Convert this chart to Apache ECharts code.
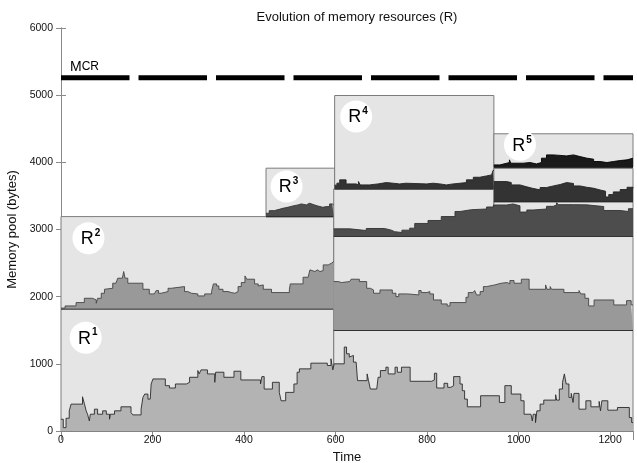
<!DOCTYPE html>
<html><head><meta charset="utf-8">
<script src="https://cdn.jsdelivr.net/npm/echarts@6/dist/echarts.min.js"></script>
<style>html,body{margin:0;padding:0;background:#fff}#c{width:637px;height:463px}</style>
</head><body><div id="c"></div>
<script>
// ---- data ----
const mcrLevel = 5260;

// pool boxes: [timeStart, timeEnd, bottom, top]
const boxR1 = [[0, 596, 0, 1820], [596, 1250, 0, 1500]];
const boxR2 = [[0, 596, 1820, 3192], [596, 1250, 1500, 2904]];
const boxR3 = [[448, 598, 3192, 3913], [596, 946, 2904, 3605], [946, 1250, 2904, 3415]];
const boxR4 = [[598, 946, 3605, 4995], [946, 1250, 3415, 3910]];
const boxR5 = [[946, 1250, 3928, 4425]];

// memory use (top of filled area), [time, bytes]
const r1 = [[0,175],[5,50],[11,190],[18,300],[22,400],[47,510],[51,410],[55,300],[58,250],[62,150],[64,250],[73,325],[80,250],[91,300],[99,250],[106,175],[108,250],[117,300],[131,360],[153,275],[157,240],[175,325],[179,500],[183,550],[190,475],[195,450],[197,700],[201,775],[228,675],[237,640],[250,700],[274,725],[281,800],[299,900],[302,850],[306,910],[320,850],[336,725],[338,875],[356,800],[378,890],[393,760],[436,700],[439,810],[444,625],[462,725],[477,575],[481,450],[491,575],[509,700],[516,875],[521,925],[546,1010],[582,975],[590,1075],[594,910],[597,1000],[619,1250],[624,1150],[630,1100],[634,1125],[639,1025],[645,1000],[648,750],[669,850],[672,750],[676,625],[690,650],[693,800],[698,900],[710,950],[715,850],[730,950],[735,875],[744,950],[763,740],[810,760],[816,860],[821,640],[837,710],[845,650],[852,675],[858,810],[872,700],[877,600],[882,475],[888,360],[917,525],[958,425],[970,675],[984,550],[1005,450],[1012,250],[1027,225],[1030,150],[1032,250],[1037,125],[1040,300],[1047,400],[1055,460],[1081,540],[1083,460],[1089,625],[1096,725],[1100,850],[1104,700],[1110,500],[1115,560],[1119,425],[1121,560],[1132,325],[1147,450],[1158,360],[1176,440],[1179,300],[1182,450],[1195,310],[1216,350],[1242,200],[1247,125],[1250,125]];
const r2a = [[0,1830],[9,1862],[33,1912],[51,1976],[69,1951],[77,1902],[80,1976],[88,2051],[95,2110],[99,2125],[113,2200],[120,2210],[124,2275],[134,2300],[137,2374],[140,2275],[146,2200],[179,2110],[193,2041],[204,2026],[208,2091],[213,2051],[219,2076],[234,2125],[241,2150],[270,2076],[277,2051],[285,2041],[299,2011],[314,2041],[329,2076],[333,2190],[340,2160],[345,2110],[354,2076],[365,2061],[372,2051],[380,2076],[387,2150],[394,2210],[402,2309],[406,2260],[423,2190],[431,2160],[434,2175],[442,2110],[460,2061],[499,2100],[501,2190],[529,2289],[540,2309],[544,2399],[548,2374],[555,2399],[560,2374],[566,2389],[573,2473],[584,2498],[591,2523],[596,2523]];
const r2b = [[596,2225],[606,2210],[613,2225],[631,2210],[634,2260],[652,2225],[668,2125],[676,2100],[683,2051],[697,2100],[709,2110],[713,2100],[724,2051],[732,2001],[738,2041],[757,2026],[782,2091],[787,2061],[800,2076],[806,2041],[814,1951],[831,1892],[844,1862],[850,1912],[885,1991],[890,2061],[900,2051],[904,2091],[908,2026],[916,2076],[923,2150],[930,2175],[948,2200],[962,2210],[975,2190],[981,2240],[990,2200],[1006,2260],[1023,2110],[1059,2175],[1062,2110],[1069,2150],[1072,2110],[1099,2061],[1132,2091],[1136,2041],[1145,1976],[1153,1862],[1165,1951],[1208,1877],[1236,1941],[1246,1877],[1250,1877]];
const r3a = [[448,3242],[455,3281],[466,3301],[477,3316],[485,3331],[496,3351],[507,3366],[518,3381],[525,3366],[536,3391],[543,3366],[554,3351],[561,3331],[572,3341],[580,3366],[583,3341],[587,3381],[593,3366],[596,3366]];
const r3b = [[596,3010],[631,2985],[667,3015],[707,2990],[722,2968],[729,2955],[745,2990],[762,3020],[773,3090],[802,3134],[831,3193],[861,3268],[872,3295],[897,3305],[930,3335],[945,3365],[974,3380],[988,3352],[1003,3260],[1018,3291],[1032,3305],[1061,3345],[1076,3367],[1083,3400],[1087,3370],[1120,3367],[1149,3342],[1186,3283],[1222,3268],[1240,3310],[1250,3300]];
const r4a = [[598,3660],[603,3690],[609,3739],[623,3679],[645,3664],[650,3714],[654,3664],[674,3679],[693,3699],[711,3689],[726,3679],[740,3689],[754,3714],[757,3679],[799,3689],[813,3679],[828,3664],[842,3679],[857,3689],[872,3699],[886,3739],[901,3778],[915,3798],[930,3813],[941,3838],[944,3878],[946,3878]];
const r4b = [[946,3714],[974,3699],[984,3664],[1003,3635],[1018,3614],[1030,3590],[1047,3625],[1061,3649],[1076,3670],[1091,3699],[1105,3685],[1120,3649],[1134,3629],[1149,3614],[1164,3589],[1178,3570],[1190,3485],[1197,3520],[1207,3560],[1222,3595],[1237,3629],[1250,3614]];
const r5 = [[946,3962],[959,3987],[974,3997],[980,4037],[983,3987],[1010,3997],[1025,3977],[1039,3997],[1050,4062],[1061,4111],[1076,4096],[1105,4111],[1120,4086],[1134,4062],[1149,4047],[1164,4012],[1178,3997],[1193,4012],[1207,4027],[1222,4037],[1237,4062],[1250,4067]];

// pool label badges
const badgeNames = ['1', '2', '3', '4', '5'];
const badgePos = [[54,1390],[60,2871],[493,3640],[645,4683],[1003,4261]];

// ---- chart ----
const chart = echarts.init(document.getElementById('c'), null, {renderer: 'canvas'});
const FONT = 'Liberation Sans, Arial, Helvetica, sans-serif';
const allBoxes = [].concat(boxR1, boxR2, boxR3, boxR4, boxR5);

function renderBox(params, api) {
  const x0 = api.value(0), x1 = api.value(1), b = api.value(2), t = api.value(3);
  const pTL = api.coord([x0, t]);
  const pBR = api.coord([x1, b]);
  const children = [{
    type: 'rect',
    shape: {x: pTL[0], y: pTL[1], width: pBR[0] - pTL[0], height: pBR[1] - pTL[1]},
    style: {fill: '#e5e5e5', stroke: '#7c7c7c', lineWidth: 1}
  }];
  if (b > 0) {
    children.push({type: 'line', shape: {x1: pTL[0], y1: pBR[1], x2: pBR[0], y2: pBR[1]},
      style: {stroke: '#111', lineWidth: 1.4}});
  }
  return {type: 'group', children};
}

function areaSeries(name, data, base, fill, line) {
  return {
    name, type: 'line', data, step: 'end', symbol: 'none', z: 3,
    lineStyle: {color: line, width: 0.9},
    areaStyle: {color: fill, opacity: 1, origin: base},
    silent: true, animation: false
  };
}

const plainNum = v => String(v);

const option = {
  animation: false,
  title: {
    text: 'Evolution of memory resources (R)',
    left: 352, top: 6, textAlign: 'center',
    textStyle: {fontFamily: FONT, fontSize: 13, fontWeight: 'normal', color: '#111'}
  },
  grid: {left: 61, right: 4, top: 28, bottom: 32, outerBoundsMode: 'none', containLabel: false},
  xAxis: [{
    type: 'value', min: 0, max: 1250, interval: 200, position: 'bottom',
    name: 'Time', nameLocation: 'middle', nameGap: 17,
    nameTextStyle: {fontFamily: FONT, fontSize: 13, color: '#111'},
    axisLine: {show: true, lineStyle: {color: '#8a8a8a', width: 1}},
    axisTick: {show: true, inside: true, length: 9, lineStyle: {color: '#8a8a8a'}},
    axisLabel: {fontFamily: FONT, fontSize: 10.5, color: '#111', margin: 4, showMaxLabel: false, formatter: plainNum},
    splitLine: {show: false}
  }, {
    type: 'value', min: 0, max: 1250, interval: 200, position: 'top',
    axisLine: {show: true, lineStyle: {color: '#8a8a8a', width: 1}},
    axisTick: {show: true, inside: true, length: 9, lineStyle: {color: '#8a8a8a'}},
    axisLabel: {show: false}, splitLine: {show: false}
  }],
  yAxis: [{
    type: 'value', min: 0, max: 6000, interval: 1000, position: 'left',
    name: 'Memory pool (bytes)', nameLocation: 'middle', nameGap: 40, nameRotate: 90,
    nameTextStyle: {fontFamily: FONT, fontSize: 13, color: '#111'},
    axisLine: {show: true, lineStyle: {color: '#8a8a8a', width: 1}},
    axisTick: {show: true, inside: true, length: 5, lineStyle: {color: '#8a8a8a'}},
    axisLabel: {fontFamily: FONT, fontSize: 10.5, color: '#111', margin: 8, formatter: plainNum},
    splitLine: {show: false}
  }, {
    type: 'value', min: 0, max: 6000, interval: 1000, position: 'right',
    axisLine: {show: true, lineStyle: {color: '#8a8a8a', width: 1}},
    axisTick: {show: true, inside: true, length: 5, lineStyle: {color: '#8a8a8a'}},
    axisLabel: {show: false}, splitLine: {show: false}
  }],
  series: [
    {
      name: 'pools', type: 'custom', renderItem: renderBox, data: allBoxes,
      encode: {x: [0, 1], y: [2, 3]}, z: 1, silent: true
    },
    areaSeries('R1', r1, 0, '#b3b3b3', '#2a2a2a'),
    areaSeries('R2a', r2a, boxR2[0][2], '#999999', '#444444'),
    areaSeries('R2b', r2b, boxR2[1][2], '#999999', '#444444'),
    areaSeries('R3a', r3a, boxR3[0][2], '#4d4d4d', '#333333'),
    areaSeries('R3b', r3b, boxR3[1][2], '#4d4d4d', '#333333'),
    areaSeries('R4a', r4a, boxR4[0][2], '#333333', '#222222'),
    areaSeries('R4b', r4b, boxR4[1][2], '#333333', '#222222'),
    areaSeries('R5', r5, boxR5[0][2], '#1a1a1a', '#000000'),
    {
      name: 'MCR', type: 'line', data: [[0, mcrLevel], [1250, mcrLevel]], symbol: 'none', z: 4,
      lineStyle: {color: '#000', width: 5, type: [68.5, 9], cap: 'butt'},
      markPoint: {
        symbol: 'circle', symbolSize: 0, silent: true,
        data: [{coord: [0, mcrLevel]}],
        label: {
          show: true, position: [9, -18], formatter: '{a|M}{b|CR}',
          rich: {
            a: {fontFamily: FONT, fontSize: 14, color: '#000'},
            b: {fontFamily: FONT, fontSize: 12, color: '#000'}
          }
        }
      }
    },
    {
      name: 'badges', type: 'scatter', z: 6, silent: true,
      data: badgePos.map((p, i) => ({value: p, name: badgeNames[i]})),
      symbol: 'circle', symbolSize: 32,
      itemStyle: {color: '#ffffff', opacity: 1},
      label: {
        show: true, position: 'inside', offset: [2, 0],
        formatter: p => '{r|R}{s|' + p.name + '}',
        rich: {
          r: {fontFamily: FONT, fontSize: 18, color: '#000', lineHeight: 20, verticalAlign: 'bottom'},
          s: {fontFamily: FONT, fontSize: 10, fontWeight: 'bold', color: '#000', lineHeight: 10, verticalAlign: 'top', padding: [0, 0, 0, 1]}
        }
      }
    }
  ]
};
chart.setOption(option);
</script>
</body></html>
